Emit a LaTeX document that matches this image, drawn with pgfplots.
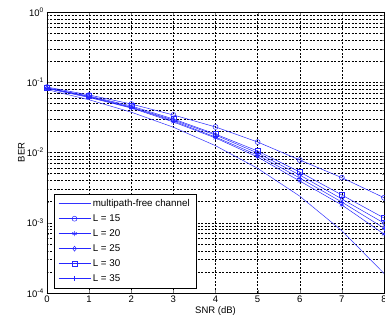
\documentclass[border=0pt]{standalone}
\usepackage{pgfplots}
\pgfplotsset{compat=1.18}
\usepackage{fontspec}
\setmainfont{Liberation Sans}
\begin{document}
\fontsize{9pt}{11pt}\selectfont
\begin{tikzpicture}
\begin{axis}[
  scale only axis,
  width=337pt, height=281pt,
  at={(0pt,0pt)}, anchor=south west,
  ymode=log,
  xmin=0, xmax=8, ymin=1e-4, ymax=1,
  xtick={0,1,2,3,4,5,6,7,8},
  ytick={1e-4,1e-3,1e-2,1e-1,1},
  minor ytick={2e-4,3e-4,4e-4,5e-4,6e-4,7e-4,8e-4,9e-4,2e-3,3e-3,4e-3,5e-3,6e-3,7e-3,8e-3,9e-3,2e-2,3e-2,4e-2,5e-2,6e-2,7e-2,8e-2,9e-2,0.2,0.3,0.4,0.5,0.6,0.7,0.8,0.9},
  yticklabels={10\textsuperscript{-4},10\textsuperscript{-3},10\textsuperscript{-2},10\textsuperscript{-1},10\textsuperscript{0}},
  /pgf/number format/assume math mode=true,
  tick label style={font=\fontsize{9.5pt}{10pt}\selectfont},
  xlabel={SNR (dB)}, ylabel={BER},
  label style={font=\fontsize{9.5pt}{10pt}\selectfont},
  xlabel style={yshift=3pt},
  ylabel style={yshift=-4pt},
  xmajorgrids=true, ymajorgrids=true, yminorgrids=true,
  major grid style={black, line width=0.4pt, dash pattern=on 2pt off 1.5pt},
  minor grid style={black, line width=0.4pt, dash pattern=on 2pt off 1.5pt},
  tick align=inside,
  major tick length=3pt, minor tick length=2pt,
  axis line style={black, line width=0.5pt},
  every axis plot/.append style={line width=0.5pt, mark size=2.5pt, mark options={solid}},
  legend style={at={(0.021,0.018)}, anchor=south west, draw=black, fill=white,
    font=\fontsize{9.8pt}{10pt}\selectfont, row sep=2.8pt, inner xsep=4pt, inner ysep=3pt,
    cells={anchor=west}},
  legend image code/.code={\draw[mark repeat=2,mark phase=2] plot coordinates {(0pt,0pt) (16pt,0pt) (32pt,0pt)};},
]
\addplot[color=blue!80!white, no marks] coordinates {(0,0.0786) (1,0.0563) (2,0.0375) (3,0.0229) (4,0.0125) (5,0.00595) (6,0.00239) (7,0.00077) (8,0.00019)};
\addlegendentry{multipath-free channel}
\addplot[color=blue!85!white, mark=o] coordinates {(0,0.0855) (1,0.0659) (2,0.0490) (3,0.0342) (4,0.0231) (5,0.0141) (6,0.00782) (7,0.00438) (8,0.00227)};
\addlegendentry{L = 15}
\addplot[color=blue!85!white, mark=asterisk] coordinates {(0,0.0815) (1,0.0607) (2,0.0430) (3,0.0272) (4,0.0161) (5,0.00863) (6,0.00393) (7,0.00179) (8,0.00069)};
\addlegendentry{L = 20}
\addplot[color=blue!85!white, mark=diamond] coordinates {(0,0.0828) (1,0.0627) (2,0.0444) (3,0.0290) (4,0.0177) (5,0.00984) (6,0.00478) (7,0.00218) (8,0.00099)};
\addlegendentry{L = 25}
\addplot[color=blue!85!white, mark=square] coordinates {(0,0.0828) (1,0.0637) (2,0.0459) (3,0.0300) (4,0.0183) (5,0.0105) (6,0.00528) (7,0.00248) (8,0.00117)};
\addlegendentry{L = 30}
\addplot[color=blue!85!white, mark=+] coordinates {(0,0.0828) (1,0.0617) (2,0.0437) (3,0.0281) (4,0.0166) (5,0.0092) (6,0.00434) (7,0.00197) (8,0.00084)};
\addlegendentry{L = 35}
\end{axis}
\pgfresetboundingbox
\path (-47pt,-30pt) rectangle (338pt,293pt);
\end{tikzpicture}
\end{document}
